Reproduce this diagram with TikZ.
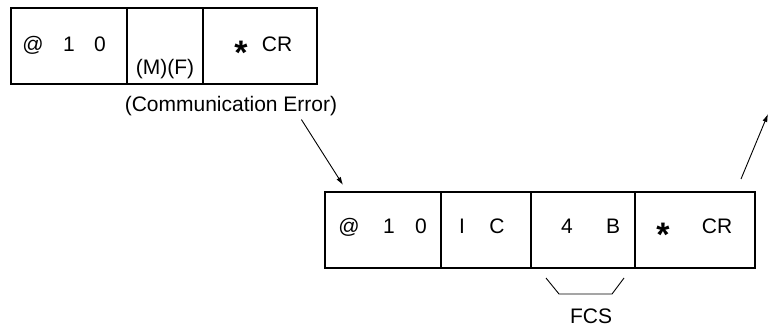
\documentclass[tikz,border=0pt]{standalone}
\usepackage{fontspec}
\setmainfont{Liberation Sans}
\usetikzlibrary{arrows.meta,positioning}
\newcommand{\bigstar}{\raisebox{-13pt}{\fontsize{34}{34}\selectfont\bfseries *}}
\tikzset{
  fld/.style={draw,line width=1.8pt,minimum height=76pt,inner sep=0pt,outer sep=0pt},
  chr/.style={anchor=base,inner sep=0pt},
  nyl/.style={line width=0.9pt,-{Latex[length=8pt,width=5pt]}},
  brc/.style={line width=0.9pt},
}
\begin{document}
\begin{tikzpicture}[x=1pt,y=-1pt,font=\fontsize{21}{25}\selectfont]
  \useasboundingbox (0,0) rectangle (770,326);
  % upper frame
  \node[fld,minimum width=116pt] (t1) at (69,46) {};
  \node[fld,minimum width=76pt,right=0pt of t1] (t2) {};
  \node[fld,minimum width=114pt,right=0pt of t2] (t3) {};
  \node[chr] (t1a) at (33,52) {@}; \node[chr] (t1b) at (69,52) {1};
  \node[chr] (t1c) at (100,52) {0};
  \node[chr] (t2a) at (165,75) {(M)(F)};
  \node[chr] (t3a) at (241,52) {\bigstar}; \node[chr] (t3b) at (277,52) {CR};
  \node[chr] (ce) at (231,112) {(Communication Error)};
  % lower frame
  \node[fld,minimum width=116pt] (b1) at (383,230) {};
  \node[fld,minimum width=90pt,right=0pt of b1] (b2) {};
  \node[fld,minimum width=104pt,right=0pt of b2] (b3) {};
  \node[fld,minimum width=120pt,right=0pt of b3] (b4) {};
  \node[chr] (b1a) at (349,233) {@}; \node[chr] (b1b) at (389,233) {1};
  \node[chr] (b1c) at (421,233) {0};
  \node[chr] (b2a) at (462,233) {I}; \node[chr] (b2b) at (497,233) {C};
  \node[chr] (b3a) at (567,233) {4}; \node[chr] (b3b) at (613,233) {B};
  \node[chr] (b4a) at (663,233) {\bigstar}; \node[chr] (b4b) at (717,233) {CR};
  % FCS brace
  \draw[brc] ([shift={(15pt,-10pt)}]b3.south west) -- ([shift={(28pt,-26pt)}]b3.south west)
    -- ([shift={(81pt,-26pt)}]b3.south west) -- ([shift={(93pt,-10pt)}]b3.south west);
  \node[chr] (fcs) at (591,323) {FCS};
  % arrows
  \coordinate (p1) at (343,185);
  \coordinate (p2) at (768,114);
  \draw[nyl] ([xshift=-36pt,yshift=-3pt]ce.south east) -- (p1);
  \draw[nyl] ([xshift=-14pt,yshift=13pt]b4.north east) -- (p2);
\end{tikzpicture}
\end{document}
